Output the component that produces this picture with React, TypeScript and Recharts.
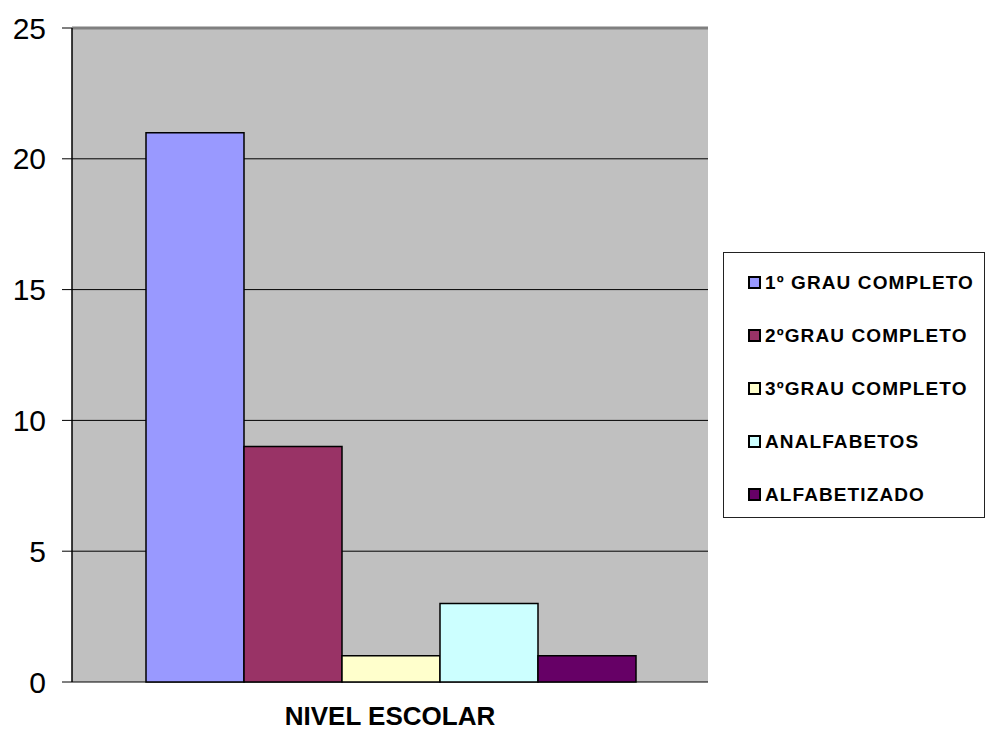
import React from "react";
import {
  BarChart,
  Bar,
  XAxis,
  YAxis,
  CartesianGrid,
  ReferenceLine,
  Legend,
} from "recharts";

const category = "NIVEL ESCOLAR";
const seriesNames = ["1º GRAU COMPLETO", "2ºGRAU COMPLETO", "3ºGRAU COMPLETO", "ANALFABETOS", "ALFABETIZADO"];
const seriesKeys = ["grau1", "grau2", "grau3", "analfabetos", "alfabetizado"];
const seriesValues = [21, 9, 1, 3, 1];
const seriesColors = ["#9999FF", "#993366", "#FFFFCC", "#CCFFFF", "#660066"];
const yTicks = [0, 5, 10, 15, 20, 25];

const FONT = '"Liberation Sans", Arial, sans-serif';

const row: Record<string, string | number> = { name: category };
seriesKeys.forEach((k, i) => {
  row[k] = seriesValues[i];
});
const chartData = [row];

function CategoryTick(props: any) {
  const { x, y, payload } = props;
  return (
    <text x={x} y={y} dy={35} textAnchor="middle" fontFamily={FONT} fontWeight="bold" fontSize={26} fill="#000">
      {payload.value}
    </text>
  );
}

// frame axis only shows its tick marks, no labels
function EmptyTick() {
  return <g />;
}

function LegendBox() {
  return (
    <div
      style={{
        boxSizing: "border-box",
        width: 262,
        height: 266,
        border: "1.5px solid #222",
        background: "#fff",
        paddingTop: 3,
        paddingLeft: 24,
      }}
    >
      {seriesNames.map((n, i) => (
        <div key={n} style={{ display: "flex", alignItems: "center", height: 53 }}>
          <div
            style={{
              boxSizing: "border-box",
              width: 13,
              height: 13,
              border: "2px solid #000",
              background: seriesColors[i],
              marginRight: 4,
            }}
          />
          <span
            style={{
              fontFamily: FONT,
              fontWeight: 700,
              fontSize: 19,
              letterSpacing: 1.1,
              color: "#000",
              whiteSpace: "nowrap",
            }}
          >
            {n}
          </span>
        </div>
      ))}
    </div>
  );
}

export default function App() {
  return (
    <div style={{ position: "absolute", left: 0, top: 0, width: 987, height: 733, background: "#fff" }}>
      <BarChart
        width={987}
        height={733}
        data={chartData}
        margin={{ top: 28, right: 279, bottom: 0, left: 0 }}
        barCategoryGap={74}
        barGap={0}
      >
        <CartesianGrid vertical={false} stroke="#000" strokeWidth={1} fill="#C0C0C0" />
        <XAxis
          xAxisId="frame"
          type="number"
          domain={[0, 1]}
          allowDataOverflow
          ticks={[0, 1]}
          height={0}
          tick={<EmptyTick />}
          tickSize={7}
          axisLine={{ stroke: "#333", strokeWidth: 1.5 }}
          tickLine={{ stroke: "#333" }}
        />
        <XAxis
          dataKey="name"
          height={51}
          axisLine={false}
          tickLine={false}
          tick={<CategoryTick />}
        />
        <YAxis
          domain={[0, 25]}
          ticks={yTicks}
          width={72}
          tickSize={10}
          tickMargin={16}
          axisLine={{ stroke: "#000", strokeWidth: 1.5 }}
          tickLine={{ stroke: "#000" }}
          tick={{ fontFamily: FONT, fontSize: 30, fill: "#000" }}
          interval={0}
        />
        <YAxis
          yAxisId="border"
          orientation="right"
          domain={[0, 25]}
          width={0}
          tick={false}
          tickLine={false}
          axisLine={{ stroke: "#808080", strokeWidth: 3 }}
        />
        <ReferenceLine y={25} stroke="#808080" strokeWidth={3} />
        <Legend
          layout="horizontal"
          verticalAlign="middle"
          content={() => <LegendBox />}
          wrapperStyle={{ left: 723, top: 252, width: 262, height: 266 }}
        />
        {seriesKeys.map((k, i) => (
          <Bar
            key={k}
            dataKey={k}
            name={seriesNames[i]}
            fill={seriesColors[i]}
            stroke="#000"
            strokeWidth={1.5}
            isAnimationActive={false}
          />
        ))}
      </BarChart>
    </div>
  );
}
